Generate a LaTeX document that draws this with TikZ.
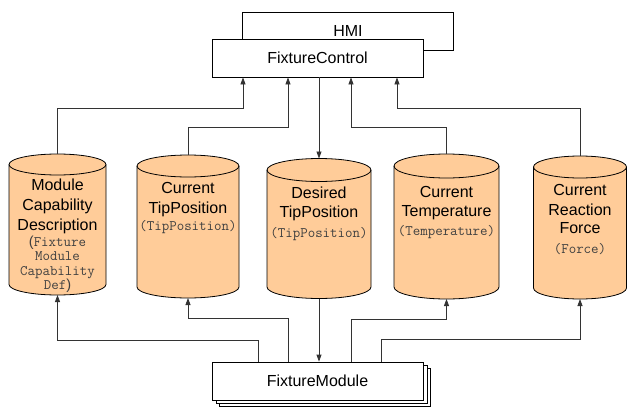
\documentclass[tikz,border=0pt]{standalone}
\usepackage{fontspec}
\setmainfont{Liberation Sans}
\usetikzlibrary{arrows.meta}
\definecolor{cylcol}{RGB}{255,204,153}
\tikzset{
  box/.style={draw=black, fill=white, line width=0.8pt, minimum width=211pt, minimum height=38pt, inner sep=0pt, font=\fontsize{16}{19}\selectfont},
  cylbody/.style={draw=black, fill=cylcol, line width=0.8pt},
  conn/.style={draw=black!80, line width=0.8pt},
  arr/.style={conn, -{Triangle[length=7pt,width=5pt]}},
  lbl/.style={anchor=base, inner sep=0pt, font=\fontsize{16}{19}\selectfont},
  mono/.style={anchor=base, inner sep=0pt, text=black!75, font=\ttfamily\fontsize{14.5}{16}\selectfont},
}
% name, cx, hw, ry, yt, yb
\newcommand\drawcyl[6]{%
  \path[cylbody] ({#2-#3},#5) -- ({#2-#3},#6)
     arc[start angle=180, end angle=360, x radius=#3pt, y radius=#4pt]
     -- ({#2+#3},#5)
     arc[start angle=0, end angle=180, x radius=#3pt, y radius=#4pt] -- cycle;
  \draw[black, line width=0.8pt] ({#2-#3},#5)
     arc[start angle=180, end angle=360, x radius=#3pt, y radius=#4pt];
  \coordinate (#1top) at (#2,{#5-#4});
  \coordinate (#1bot) at (#2,{#6+#4});
}
\begin{document}
\begin{tikzpicture}[x=1pt, y=-1pt]
\useasboundingbox (0,0) rectangle (627,407);

% cylinders
\drawcyl{c1}{57.5}{48.5}{10.5}{164.5}{284.5}
\drawcyl{c2}{188}{51}{11}{166}{287}
\drawcyl{c3}{319}{52}{11.5}{170}{287}
\drawcyl{c4}{446.5}{52.5}{12}{166}{287}
\drawcyl{c5}{580}{46.5}{11}{167}{288}

% cylinder labels
\foreach \t/\y [count=\i] in {Module/190, Capability/210, Description/230}
  \node[lbl] (c1s\i) at (57.5,\y) {\t};
\foreach \t/\y [count=\i] in {{{\rmfamily(}Fixture}/246, Module/260.5, Capability/275, {Def{\rmfamily)}}/289.5}
  \node[mono] (c1m\i) at (57.5,\y) {\t};

\node[lbl] (c2s1) at (188,193) {Current};
\node[lbl] (c2s2) at (188,213) {TipPosition};
\node[mono] (c2m1) at (188,230) {(TipPosition)};

\node[lbl] (c3s1) at (319,198) {Desired};
\node[lbl] (c3s2) at (319,217.5) {TipPosition};
\node[mono] (c3m1) at (319,237) {(TipPosition)};

\node[lbl] (c4s1) at (446.5,197) {Current};
\node[lbl] (c4s2) at (446.5,216.5) {Temperature};
\node[mono] (c4m1) at (446.5,235.5) {(Temperature)};

\node[lbl] (c5s1) at (580,195) {Current};
\node[lbl] (c5s2) at (580,215) {Reaction};
\node[lbl] (c5s3) at (580,233.5) {Force};
\node[mono] (c5m1) at (580,253) {(Force)};

% boxes
\node[box] (hmi) at (348,31) {HMI};
\node[box] (fc) at (317.5,58) {FixtureControl};
\node[box] (fm3) at (325,387) {};
\node[box] (fm2) at (321.5,384) {};
\node[box] (fm) at (317.5,381) {FixtureModule};

% top connectors
\draw[arr] (c1top) -- (c1top |- 0,108) -| ([xshift=-74.5pt]fc.south);
\draw[arr] (c2top) -- (c2top |- 0,127) -| ([xshift=-29.5pt]fc.south);
\draw[arr] (fc.south -| c3top) -- (c3top);
\draw[arr] (c4top) -- (c4top |- 0,127) -| ([xshift=33.5pt]fc.south);
\draw[arr] (c5top) -- (c5top |- 0,108) -| ([xshift=79.5pt]fc.south);

% bottom connectors
\draw[arr] ([xshift=-59.5pt]fm.north) -- ([xshift=-59.5pt]fm.north |- 0,340) -| (c1bot);
\draw[arr] ([xshift=-29.5pt]fm.north) -- ([xshift=-29.5pt]fm.north |- 0,318) -| (c2bot);
\draw[arr] (c3bot) -- (c3bot |- fm.north);
\draw[arr] ([xshift=33.5pt]fm.north) -- ([xshift=33.5pt]fm.north |- 0,319) -| (c4bot);
\draw[arr] ([xshift=63.5pt]fm.north) -- ([xshift=63.5pt]fm.north |- 0,339) -| (c5bot);
\end{tikzpicture}
\end{document}
